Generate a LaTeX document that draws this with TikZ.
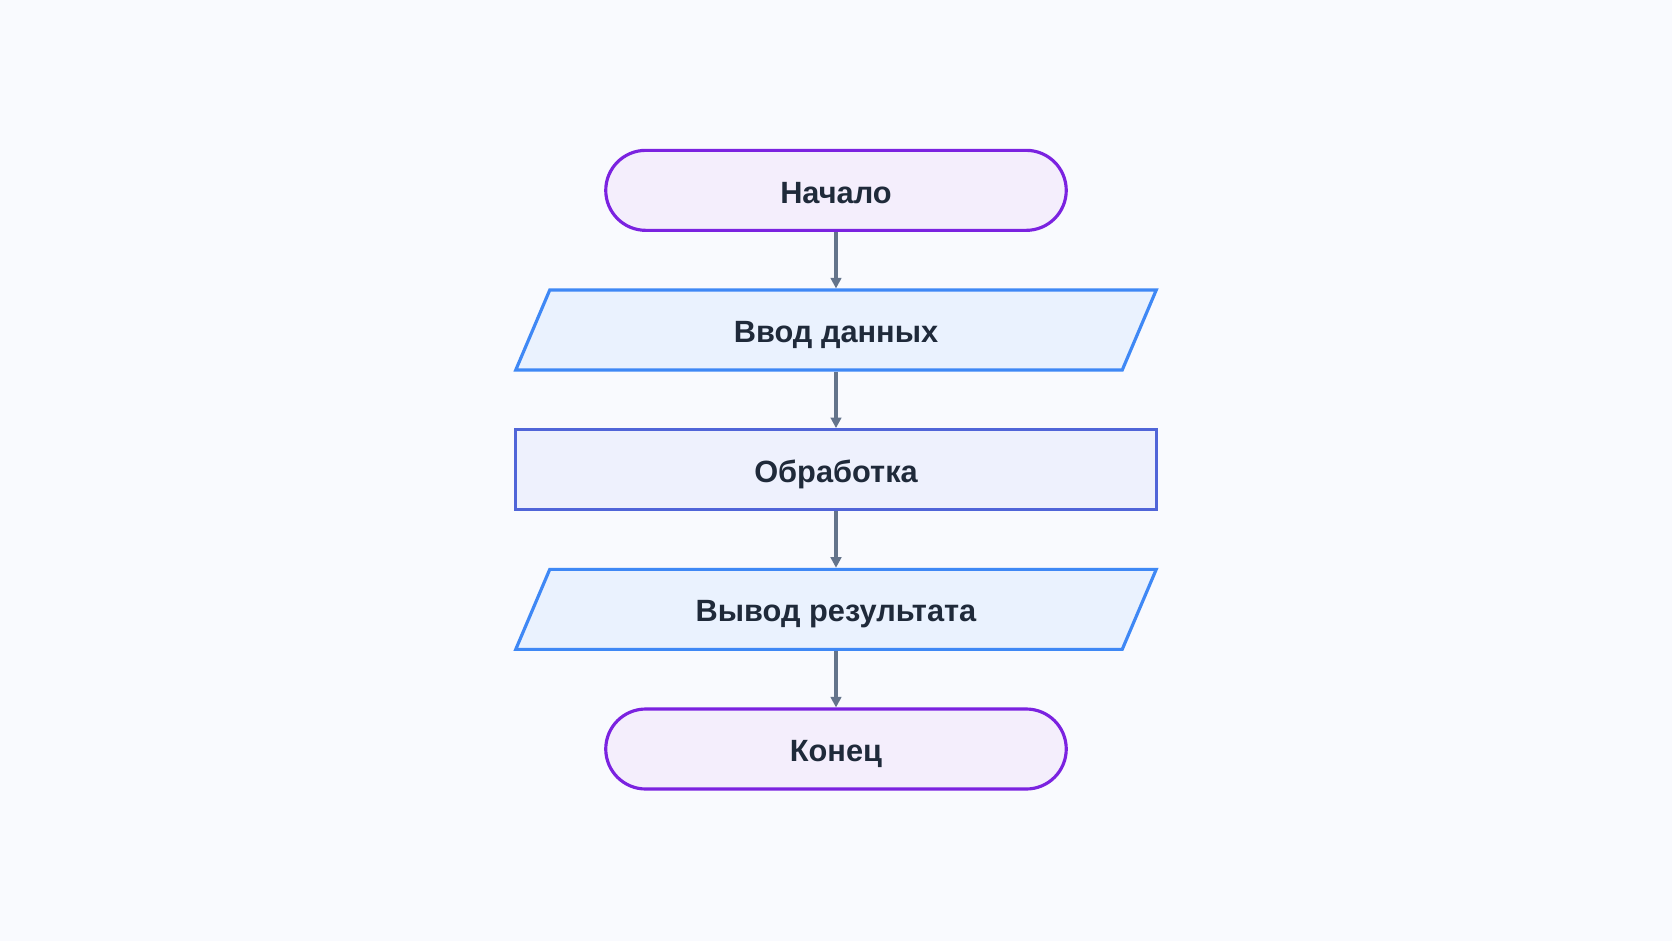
\documentclass[tikz,border=0pt]{standalone}
\usepackage{fontspec}
\setmainfont{Liberation Sans}
\usetikzlibrary{positioning}
\usetikzlibrary{backgrounds}
\usetikzlibrary{arrows.meta}
\definecolor{bgcol}{HTML}{F9FAFE}
\definecolor{termline}{HTML}{7B22E0}
\definecolor{termfill}{HTML}{F4EEFC}
\definecolor{ioline}{HTML}{3F88F5}
\definecolor{iofill}{HTML}{EAF2FE}
\definecolor{procline}{HTML}{5065D8}
\definecolor{procfill}{HTML}{EEF1FD}
\definecolor{flowcol}{HTML}{64748B}
\definecolor{txtcol}{HTML}{1F2A3A}
\tikzset{
  box/.style={line width=1.8pt, minimum height=1.6cm, text=txtcol,
    text height=14.4pt, text depth=0pt,
    font=\fontsize{17.5}{21}\selectfont\bfseries},
  term/.style={box, draw=termline, fill=termfill, rounded corners=0.8cm,
    minimum width=9.21cm},
  io/.style={box, minimum width=12.13cm},
  ioshape/.style={draw=ioline, fill=iofill, line width=1.8pt},
  proc/.style={box, draw=procline, fill=procfill, minimum width=12.82cm},
  flow/.style={draw=flowcol, line width=1.9pt,
    -{Triangle[length=6pt,width=6pt]}}
}
\begin{document}
\begin{tikzpicture}
\useasboundingbox (0,0) rectangle (33.44,-18.82);
\node[term] (start) at (16.72,-3.807) {Начало};
\node[io, below=1.13cm of start] (input) {Ввод данных};
\node[proc, below=1.13cm of input] (work) {Обработка};
\node[io, below=1.13cm of work] (output) {Вывод результата};
\node[term, below=1.13cm of output] (stop) {Конец};
\begin{scope}[on background layer]
\fill[bgcol] (0,0) rectangle (33.44,-18.82);
\foreach \n in {input, output}
  \draw[ioshape] ([shift={(0.34cm+0.9pt,-0.9pt)}]\n.north west)
    -- ([shift={(0.34cm-0.9pt,-0.9pt)}]\n.north east)
    -- ([shift={(-0.34cm-0.9pt,0.9pt)}]\n.south east)
    -- ([shift={(-0.34cm+0.9pt,0.9pt)}]\n.south west) -- cycle;
\end{scope}
\foreach \a/\b in {start/input, input/work, work/output, output/stop}
  \draw[flow] (\a) -- (\b);
\end{tikzpicture}
\end{document}
